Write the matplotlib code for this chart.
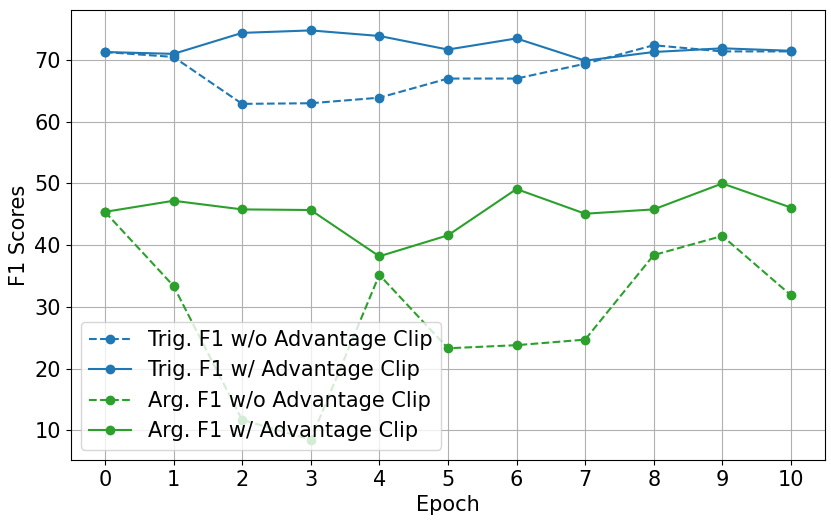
import matplotlib
matplotlib.use("Agg")
import matplotlib.pyplot as plt

epochs = list(range(11))
trig_wo = [71.3, 70.5, 62.9, 63.0, 63.9, 67.0, 67.0, 69.4, 72.4, 71.4, 71.4]
trig_w = [71.3, 71.0, 74.4, 74.8, 73.9, 71.7, 73.5, 69.9, 71.3, 71.9, 71.5]
arg_wo = [45.4, 33.4, 11.7, 8.5, 35.2, 23.3, 23.8, 24.7, 38.4, 41.5, 31.9]
arg_w = [45.4, 47.2, 45.8, 45.7, 38.2, 41.6, 49.1, 45.1, 45.8, 50.0, 46.1]
labels = ["Trig. F1 w/o Advantage Clip", "Trig. F1 w/ Advantage Clip",
          "Arg. F1 w/o Advantage Clip", "Arg. F1 w/ Advantage Clip"]

plt.rcParams['font.size'] = 15
fig, ax = plt.subplots(figsize=(8.31, 5.24), dpi=100)
ax.plot(epochs, trig_wo, 'o--', color='#1f77b4', label=labels[0])
ax.plot(epochs, trig_w, 'o-', color='#1f77b4', label=labels[1])
ax.plot(epochs, arg_wo, 'o--', color='#2ca02c', label=labels[2])
ax.plot(epochs, arg_w, 'o-', color='#2ca02c', label=labels[3])
ax.set_xticks(epochs)
ax.set_xlabel("Epoch")
ax.set_ylabel("F1 Scores")
ax.grid(True)
ax.legend(loc='lower left')
fig.subplots_adjust(left=0.085, right=0.993, top=0.981, bottom=0.122)
fig.savefig("out.png")
